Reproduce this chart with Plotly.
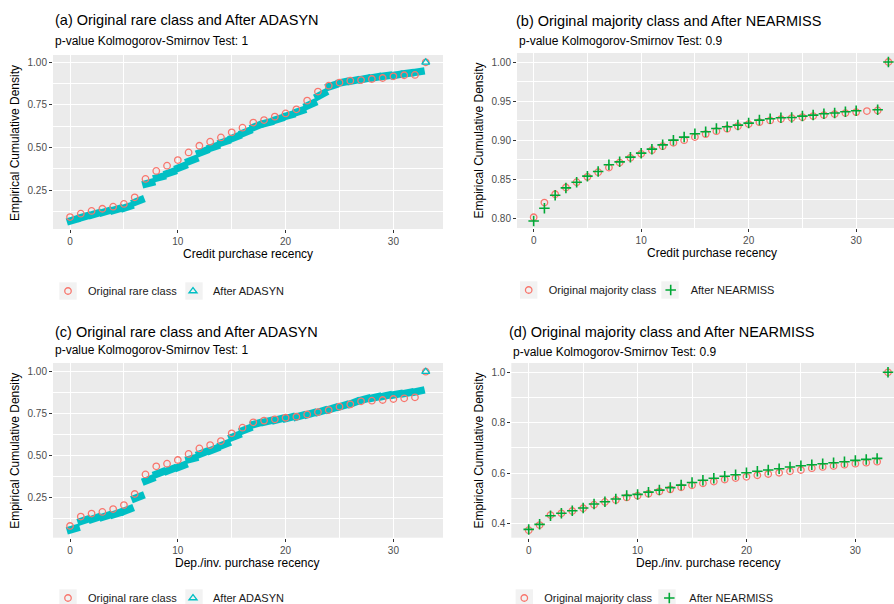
import plotly.graph_objects as go

W, H = 894, 604
FONT = "Liberation Sans, Arial, Helvetica, sans-serif"
RED = "#F8766D"
CYAN = "#00BFC4"
GREEN = "#00A836"

# ---------------- data ----------------
recency = list(range(34))

# (a) Credit purchase recency - rare class vs ADASYN
a_original = [0.091, 0.111, 0.127, 0.140, 0.152, 0.168, 0.207, 0.315, 0.362, 0.393,
              0.426, 0.471, 0.510, 0.534, 0.559, 0.589, 0.616, 0.646, 0.661, 0.681,
              0.700, 0.724, 0.775, 0.828, 0.863, 0.881, 0.892, 0.896, 0.902, 0.908,
              0.918, 0.924, 0.926, 1.000]
# ADASYN ecdf: start / end of each synthetic step between integers 0..32
a_adasyn_lo = [0.062, 0.082, 0.098, 0.112, 0.124, 0.138, 0.170, 0.280, 0.315, 0.340,
               0.370, 0.410, 0.460, 0.490, 0.520, 0.545, 0.575, 0.610, 0.635, 0.655,
               0.678, 0.700, 0.735, 0.790, 0.850, 0.875, 0.885, 0.895, 0.905, 0.915,
               0.920, 0.930, 0.938]
a_adasyn_hi = [0.085, 0.104, 0.120, 0.134, 0.146, 0.162, 0.200, 0.300, 0.335, 0.365,
               0.400, 0.440, 0.490, 0.515, 0.545, 0.575, 0.605, 0.640, 0.655, 0.678,
               0.698, 0.725, 0.770, 0.830, 0.875, 0.890, 0.900, 0.910, 0.918, 0.925,
               0.932, 0.940, 0.950]
a_adasyn_max_x = [33]
a_adasyn_max_y = [1.0]

# (b) Credit purchase recency - majority class vs NEARMISS
b_original = [0.8017, 0.8205, 0.8311, 0.8397, 0.8465, 0.8533, 0.8593, 0.8652, 0.8716, 0.8776,
              0.8827, 0.8874, 0.8925, 0.8968, 0.9002, 0.9041, 0.9079, 0.9117, 0.9147, 0.9181,
              0.9207, 0.9232, 0.9254, 0.9271, 0.9284, 0.9296, 0.9309, 0.9322, 0.9335, 0.9348,
              0.9360, 0.9373, 0.9382, 1.0000]
b_nearmiss_x = [0, 1, 2, 3, 4, 5, 6, 7, 8, 9, 10, 11, 12, 13, 14, 15, 16, 17, 18, 19,
                20, 21, 22, 23, 24, 25, 26, 27, 28, 29, 30, 32, 33]
b_nearmiss = [0.7970, 0.8132, 0.8299, 0.8392, 0.8465, 0.8542, 0.8601, 0.8687, 0.8725, 0.8785,
              0.8836, 0.8887, 0.8942, 0.9002, 0.9041, 0.9083, 0.9109, 0.9151, 0.9173, 0.9194,
              0.9220, 0.9258, 0.9275, 0.9288, 0.9292, 0.9309, 0.9322, 0.9339, 0.9348, 0.9365,
              0.9377, 0.9390, 1.0000]

# (c) Dep./inv. purchase recency - rare class vs ADASYN
c_original = [0.079, 0.135, 0.153, 0.163, 0.180, 0.204, 0.270, 0.387, 0.435, 0.451,
              0.473, 0.509, 0.542, 0.562, 0.586, 0.632, 0.666, 0.698, 0.708, 0.716,
              0.725, 0.731, 0.745, 0.759, 0.771, 0.791, 0.805, 0.823, 0.827, 0.831,
              0.837, 0.841, 0.847, 1.000]
c_adasyn_lo = [0.050, 0.100, 0.112, 0.125, 0.140, 0.160, 0.235, 0.340, 0.380, 0.400,
               0.420, 0.470, 0.500, 0.520, 0.550, 0.600, 0.640, 0.680, 0.695, 0.705,
               0.715, 0.725, 0.738, 0.752, 0.768, 0.785, 0.800, 0.825, 0.838, 0.848,
               0.858, 0.866, 0.875]
c_adasyn_hi = [0.072, 0.125, 0.138, 0.150, 0.165, 0.190, 0.265, 0.370, 0.410, 0.430,
               0.450, 0.490, 0.530, 0.550, 0.580, 0.630, 0.670, 0.700, 0.712, 0.725,
               0.735, 0.745, 0.760, 0.775, 0.792, 0.808, 0.830, 0.845, 0.855, 0.865,
               0.872, 0.880, 0.892]
c_adasyn_max_x = [33]
c_adasyn_max_y = [1.0]

# (d) Dep./inv. purchase recency - majority class vs NEARMISS
d_original = [0.373, 0.393, 0.433, 0.440, 0.449, 0.460, 0.474, 0.485, 0.493, 0.503,
              0.510, 0.518, 0.527, 0.535, 0.543, 0.551, 0.559, 0.566, 0.574, 0.580,
              0.585, 0.591, 0.596, 0.601, 0.607, 0.612, 0.619, 0.624, 0.628, 0.633,
              0.637, 0.641, 0.645, 1.000]
d_nearmiss = [0.376, 0.396, 0.430, 0.440, 0.450, 0.461, 0.477, 0.486, 0.497, 0.511,
              0.515, 0.524, 0.532, 0.542, 0.552, 0.562, 0.571, 0.579, 0.587, 0.593,
              0.601, 0.607, 0.612, 0.617, 0.624, 0.629, 0.633, 0.637, 0.641, 0.645,
              0.650, 0.654, 0.658, 1.000]

titles = ["(a) Original rare class and After ADASYN",
          "(b) Original majority class and After NEARMISS",
          "(c) Original rare class and After ADASYN",
          "(d) Original majority class and After NEARMISS"]
subtitles = ["p-value Kolmogorov-Smirnov Test: 1",
             "p-value Kolmogorov-Smirnov Test: 0.9",
             "p-value Kolmogorov-Smirnov Test: 1",
             "p-value Kolmogorov-Smirnov Test: 0.9"]
xtitles = ["Credit purchase recency", "Credit purchase recency",
           "Dep./inv. purchase recency", "Dep./inv. purchase recency"]
ytitle = "Empirical Cumulative Density"


def band(lo, hi):
    xs, ys = [], []
    for k, (l, h) in enumerate(zip(lo, hi)):
        xs += [recency[k] - 0.3, recency[k] + 0.9, None]
        ys += [l, h, None]
    return xs, ys


circle = dict(symbol="circle-open", size=6.5, color=RED, line=dict(width=1.3, color=RED))
tri = dict(symbol="triangle-up-open", size=7, color=CYAN, line=dict(width=1.3, color=CYAN))
plus = dict(symbol="cross-thin-open", size=7.5, color=GREEN, line=dict(width=1.6, color=GREEN))

fig = go.Figure()

# panel a
bx, by = band(a_adasyn_lo, a_adasyn_hi)
fig.add_trace(go.Scatter(x=bx, y=by, mode="lines", line=dict(color=CYAN, width=7.5),
                         showlegend=False, xaxis="x", yaxis="y", hoverinfo="skip"))
fig.add_trace(go.Scatter(x=recency, y=a_original, mode="markers", marker=circle,
                         name="Original rare class", xaxis="x", yaxis="y", legend="legend"))
fig.add_trace(go.Scatter(x=a_adasyn_max_x, y=a_adasyn_max_y, mode="markers", marker=tri,
                         name="After ADASYN", xaxis="x", yaxis="y", legend="legend"))
# panel b
fig.add_trace(go.Scatter(x=recency, y=b_original, mode="markers", marker=circle,
                         name="Original majority class", xaxis="x2", yaxis="y2", legend="legend2"))
fig.add_trace(go.Scatter(x=b_nearmiss_x, y=b_nearmiss, mode="markers", marker=plus,
                         name="After NEARMISS", xaxis="x2", yaxis="y2", legend="legend2"))
# panel c
bx, by = band(c_adasyn_lo, c_adasyn_hi)
fig.add_trace(go.Scatter(x=bx, y=by, mode="lines", line=dict(color=CYAN, width=7.5),
                         showlegend=False, xaxis="x3", yaxis="y3", hoverinfo="skip"))
fig.add_trace(go.Scatter(x=recency, y=c_original, mode="markers", marker=circle,
                         name="Original rare class", xaxis="x3", yaxis="y3", legend="legend3"))
fig.add_trace(go.Scatter(x=c_adasyn_max_x, y=c_adasyn_max_y, mode="markers", marker=tri,
                         name="After ADASYN", xaxis="x3", yaxis="y3", legend="legend3"))
# panel d
fig.add_trace(go.Scatter(x=recency, y=d_original, mode="markers", marker=circle,
                         name="Original majority class", xaxis="x4", yaxis="y4", legend="legend4"))
fig.add_trace(go.Scatter(x=recency, y=d_nearmiss, mode="markers", marker=plus,
                         name="After NEARMISS", xaxis="x4", yaxis="y4", legend="legend4"))


def px_x(p):
    return p / W


def px_y(p):
    return 1 - p / H


def xax(domain, rng, anchor):
    return dict(domain=domain, range=rng, anchor=anchor, tick0=0, dtick=10,
                showgrid=True, gridcolor="white", gridwidth=1.1, zeroline=False,
                ticks="outside", ticklen=3, tickwidth=1, tickcolor="#333333",
                tickfont=dict(size=10, color="#4D4D4D", family=FONT),
                minor=dict(dtick=5, tick0=0, showgrid=True, gridcolor="white", gridwidth=0.5))


def yax(domain, rng, anchor, dtick, fmt):
    return dict(domain=domain, range=rng, anchor=anchor, tick0=0, dtick=dtick,
                tickformat=fmt,
                showgrid=True, gridcolor="white", gridwidth=1.1, zeroline=False,
                ticks="outside", ticklen=3, tickwidth=1, tickcolor="#333333",
                tickfont=dict(size=10, color="#4D4D4D", family=FONT),
                minor=dict(dtick=dtick / 2, tick0=0, showgrid=True, gridcolor="white", gridwidth=0.5))


leg_common = dict(orientation="h", xanchor="left", yanchor="middle",
                  font=dict(size=11, color="#1A1A1A", family=FONT),
                  bgcolor="rgba(0,0,0,0)", itemwidth=30, tracegroupgap=0)

# light grey legend key backgrounds (ggplot legend.key), centres in px
key_centres = [(68, 291), (194, 291), (528.7, 290), (670, 290),
               (68, 598), (194, 598), (524.3, 598), (667, 598)]
shapes = []
for cx, cy in key_centres:
    shapes.append(dict(type="rect", xref="paper", yref="paper", layer="below",
                       x0=px_x(cx - 8.7), x1=px_x(cx + 8.7),
                       y0=px_y(cy + 8.7), y1=px_y(cy - 8.7),
                       fillcolor="#F2F2F2", line=dict(width=0)))

fig.update_layout(
    width=W, height=H,
    margin=dict(l=0, r=0, t=0, b=0, autoexpand=False),
    paper_bgcolor="white", plot_bgcolor="#EBEBEB",
    font=dict(family=FONT, color="black"),
    xaxis=xax([px_x(53), px_x(443)], [-1.58, 34.6], "y"),
    yaxis=yax([px_y(229), px_y(55)], [0.021, 1.043], "x", 0.25, ".2f"),
    xaxis2=xax([px_x(517), 1.0], [-1.55, 33.52], "y2"),
    yaxis2=yax([px_y(228), px_y(53)], [0.788, 1.0115], "x2", 0.05, ".2f"),
    xaxis3=xax([px_x(53), px_x(443)], [-1.58, 34.6], "y3"),
    yaxis3=yax([px_y(537.7), px_y(363)], [0.009, 1.052], "x3", 0.25, ".2f"),
    xaxis4=xax([px_x(511.3), 1.0], [-1.6, 33.55], "y4"),
    yaxis4=yax([px_y(537.7), px_y(363)], [0.343, 1.037], "x4", 0.2, ".1f"),
    legend=dict(leg_common, x=px_x(48), y=px_y(291), entrywidth=80),
    legend2=dict(leg_common, x=px_x(508.7), y=px_y(290), entrywidth=97),
    legend3=dict(leg_common, x=px_x(48), y=px_y(598), entrywidth=80),
    legend4=dict(leg_common, x=px_x(504.3), y=px_y(598), entrywidth=100),
    shapes=shapes,
)

ann = []
title_pos = [(53.3, 20), (513.7, 21), (53.3, 332), (507, 331.7)]
sub_pos = [(53.3, 41), (517, 40.7), (53.3, 350), (511.3, 351.7)]
xt_pos = [(248, 254), (712, 253.3), (247.5, 562.7), (708.7, 562.7)]
yt_pos = [(15, 143), (478.7, 140.8), (15, 450.8), (478.7, 450.8)]
for i in range(4):
    ann.append(dict(text=titles[i], x=px_x(title_pos[i][0]), y=px_y(title_pos[i][1]),
                    xref="paper", yref="paper", xanchor="left", yanchor="middle",
                    showarrow=False, font=dict(size=14.5, color="black", family=FONT)))
    ann.append(dict(text=subtitles[i], x=px_x(sub_pos[i][0]), y=px_y(sub_pos[i][1]),
                    xref="paper", yref="paper", xanchor="left", yanchor="middle",
                    showarrow=False, font=dict(size=12, color="black", family=FONT)))
    ann.append(dict(text=xtitles[i], x=px_x(xt_pos[i][0]), y=px_y(xt_pos[i][1]),
                    xref="paper", yref="paper", xanchor="center", yanchor="middle",
                    showarrow=False, font=dict(size=12, color="black", family=FONT)))
    ann.append(dict(text=ytitle, x=px_x(yt_pos[i][0]), y=px_y(yt_pos[i][1]),
                    xref="paper", yref="paper", xanchor="center", yanchor="middle",
                    textangle=-90, showarrow=False,
                    font=dict(size=12, color="black", family=FONT)))
fig.update_layout(annotations=ann)

fig.write_html("out.html", config={"displayModeBar": False},
               post_script="document.body.style.margin='0px';document.body.style.overflow='hidden';")
